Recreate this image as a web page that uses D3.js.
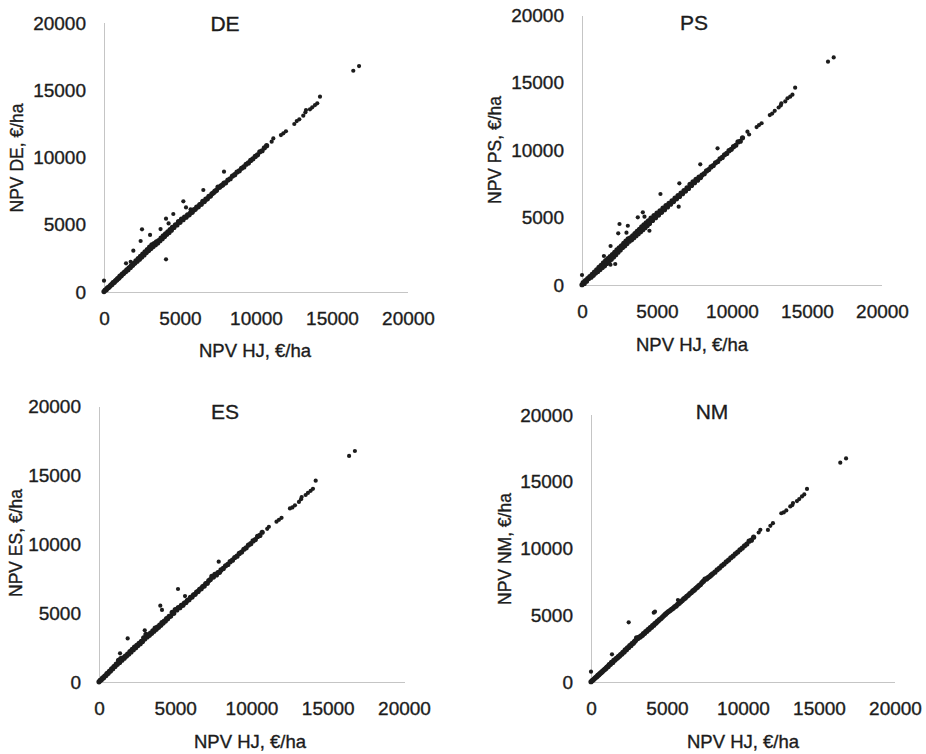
<!DOCTYPE html>
<html lang="en">
<head>
<meta charset="UTF-8">
<title>NPV comparison</title>
<script src="https://cdn.jsdelivr.net/npm/d3@7"></script>
<style>
  body { margin: 0; background: #fff; }
  svg { display: block; font-family: "Liberation Sans", Arial, sans-serif; }
</style>
</head>
<body>
<svg width="926" height="754"></svg>
<script>
// NPV HJ (x) for the dense band, shared by all panels
const hjBand = [0, 80, 150, 230, 300, 380, 450, 520, 600, 680, 750, 830, 900, 980, 1050, 1130, 1200, 1280, 1350, 1430,
  1500, 1580, 1650, 1730, 1800, 1880, 1950, 2030, 2100, 2180, 2250, 2330, 2400, 2480, 2550, 2630, 2700, 2780, 2850, 2930,
  3000, 3080, 3150, 3230, 3300, 3380, 3450, 3530, 3600, 3680, 3750, 3830, 3900, 3980, 4050, 4130, 4200, 4280, 4350, 4430,
  4500, 4600, 4700, 4800, 4900, 5000, 5100, 5200, 5300, 5400, 5500, 5600, 5700, 5800, 5900, 6000, 6100, 6200, 6300, 6400,
  6500, 6600, 6700, 6800, 6900, 7000, 7100, 7200, 7300, 7400, 7500, 7600, 7700, 7800, 7900, 8000, 8150, 8300, 8450, 8600,
  8750, 8900, 9050, 9200, 9350, 9500, 9650, 9800, 9950, 10100, 10250, 10400, 10550, 10700];

const deBand = [30, 140, 170, 300, 330, 420, 520, 560, 690, 720, 830, 900, 990, 1050, 1180, 1200, 1330, 1370, 1480, 1520,
  1640, 1660, 1800, 1830, 1960, 1990, 2120, 2150, 2310, 2290, 2480, 2440, 2650, 2600, 2820, 2760, 2990, 2930, 3150, 3080,
  3330, 3230, 3500, 3380, 3600, 3520, 3720, 3650, 3830, 3810, 4000, 3960, 4180, 4120, 4330, 4290, 4480, 4430, 4640, 4590,
  4800, 4800, 5000, 4990, 5230, 5180, 5420, 5380, 5560, 5560, 5730, 5740, 5900, 5930, 6100, 6150, 6320, 6330, 6500, 6530,
  6740, 6720, 6900, 6930, 7120, 7130, 7300, 7380, 7500, 7560, 7800, 7780, 7900, 7960, 8100, 8120, 8320, 8420, 8620, 8720,
  8920, 9010, 9200, 9300, 9500, 9600, 9780, 9900, 10080, 10200, 10420, 10500, 10720, 10880];

const psBand = [20, 170, 120, 330, 280, 470, 480, 620, 580, 780, 720, 950, 880, 1120, 1000, 1300, 1150, 1450, 1300, 1650,
  1420, 1800, 1600, 1950, 1750, 2100, 1900, 2260, 2080, 2420, 2250, 2600, 2430, 2760, 2600, 2900, 2780, 3080, 2900, 3250,
  3080, 3420, 3250, 3500, 3350, 3650, 3500, 3800, 3650, 3980, 3800, 4130, 3950, 4300, 4100, 4450, 4250, 4600, 4400, 4760,
  4560, 4950, 4780, 5150, 4980, 5330, 5180, 5500, 5380, 5700, 5580, 5880, 5780, 6050, 5980, 6230, 6180, 6430, 6380, 6620,
  6560, 6800, 6760, 7000, 6960, 7200, 7150, 7450, 7370, 7650, 7580, 7820, 7760, 8000, 7960, 8150, 8250, 8450, 8550, 8750,
  8850, 9050, 9150, 9350, 9450, 9650, 9750, 9950, 10050, 10250, 10350, 10600, 10650, 10900];

const esBand = [10, 120, 160, 280, 310, 430, 470, 600, 640, 780, 800, 950, 960, 1120, 1130, 1300, 1280, 1560, 1420, 1700,
  1580, 1750, 1720, 1880, 1880, 2030, 2020, 2200, 2180, 2370, 2340, 2520, 2490, 2660, 2640, 2800, 2780, 2950, 2930, 3200,
  3120, 3450, 3260, 3400, 3380, 3550, 3530, 3700, 3680, 3900, 3820, 3980, 3960, 4120, 4120, 4300, 4270, 4420, 4420, 4600,
  4580, 4750, 4780, 5050, 4980, 5250, 5220, 5400, 5380, 5550, 5570, 5720, 5760, 5920, 5960, 6130, 6160, 6320, 6360, 6520,
  6560, 6720, 6760, 6920, 6960, 7130, 7160, 7350, 7420, 7650, 7600, 7800, 7760, 7920, 7950, 8120, 8230, 8420, 8520, 8720,
  8830, 9020, 9120, 9320, 9420, 9620, 9720, 9920, 10020, 10220, 10320, 10550, 10620, 10850];

const nmBand = [20, 110, 170, 260, 330, 400, 490, 550, 640, 720, 790, 880, 940, 1020, 1120, 1170, 1300, 1330, 1480, 1470,
  1620, 1640, 1760, 1800, 1900, 1950, 2060, 2100, 2230, 2250, 2400, 2420, 2560, 2580, 2720, 2740, 2880, 2900, 3020, 3100,
  3300, 3250, 3350, 3380, 3460, 3500, 3620, 3650, 3780, 3800, 3930, 3950, 4080, 4100, 4230, 4260, 4380, 4420, 4530, 4580,
  4680, 4750, 4860, 4980, 5080, 5180, 5280, 5350, 5450, 5520, 5630, 5700, 5820, 5900, 6020, 6100, 6220, 6300, 6420, 6500,
  6620, 6700, 6820, 6900, 7020, 7100, 7220, 7300, 7450, 7550, 7700, 7720, 7820, 7900, 8000, 8100, 8230, 8400, 8530, 8700,
  8830, 9000, 9130, 9300, 9430, 9600, 9730, 9900, 10030, 10200, 10330, 10550, 10620, 10850];

// sparse high-value stands
const hjHigh = [11030, 11140, 11640, 11800, 11970, 12520, 12680, 12850, 13110, 13250, 13290, 13550, 13700, 13880, 14030, 14210, 16400, 16780];
const deHigh = [11180, 11420, 11670, 11800, 11950, 12490, 12710, 12840, 13110, 13360, 13530, 13580, 13730, 13900, 14030, 14520, 16450, 16800];
const psHigh = [11360, 11150, 11700, 11850, 11980, 12590, 12700, 12900, 13150, 13300, 13450, 13600, 13830, 13950, 14100, 14620, 16540, 16860];
const esHigh = [11100, 11250, 11620, 11750, 11900, 12580, 12650, 12800, 13050, 13250, 13400, 13550, 13700, 13850, 14000, 14590, 16380, 16740];
const nmHigh = [11200, 11400, 11390, 11700, 11900, 12640, 12700, 12850, 13150, 13250, 13400, 13550, 13700, 13900, 14050, 14460, 16430, 16750];

// scattered stands off the band, [NPV HJ, NPV method]
const deOut = [[7895, 8945], [6535, 7584], [5220, 6740], [5395, 6290], [5700, 6150], [4560, 5800], [4080, 5450], [4250, 5100],
  [3720, 4680], [2500, 4660], [3030, 4240], [2410, 3790], [1930, 3070], [4080, 2430], [1450, 2130], [1755, 2250], [0, 840]];
const psOut = [[9037, 10125], [7885, 8940], [6490, 7530], [5230, 6740], [6445, 5800], [4055, 5380], [3720, 5015], [4165, 5060],
  [4495, 4020], [2500, 4520], [3055, 4390], [2415, 3830], [2965, 3875], [1905, 2890], [1460, 2150], [2215, 1555], [1900, 1500], [0, 740]];
const esOut = [[7850, 8720], [5180, 6740], [5640, 6230], [4020, 5530], [4130, 5220], [1880, 3160], [1380, 2080], [3000, 3750]];
const nmOut = [[2480, 4470], [4130, 5190], [4210, 5270], [5720, 6140], [1380, 2070], [0, 770]];

const ticks = [0, 5000, 10000, 15000, 20000];
const xLabel = "NPV HJ, €/ha";

const panels = [
  {title: "DE", band: deBand, high: deHigh, out: deOut, left: 104, right: 408, top: 23, bottom: 292,
   titleX: 225, titleY: 31, yLabX: 23, yLabY: 158, xLabX: 255, xLabY: 357},
  {title: "PS", band: psBand, high: psHigh, out: psOut, left: 582, right: 882, top: 15, bottom: 285,
   titleX: 694, titleY: 30, yLabX: 501, yLabY: 150, xLabX: 692, xLabY: 351},
  {title: "ES", band: esBand, high: esHigh, out: esOut, left: 99, right: 404, top: 406, bottom: 682,
   titleX: 225, titleY: 419, yLabX: 22, yLabY: 543, xLabX: 250, xLabY: 748},
  {title: "NM", band: nmBand, high: nmHigh, out: nmOut, left: 591, right: 895, top: 415, bottom: 682,
   titleX: 712, titleY: 419, yLabX: 511, yLabY: 549, xLabX: 743, xLabY: 748}
];

const svg = d3.select("svg");
const ink = "#1c1c1c";

// scanned look: a hairline stroke makes the type a bit heavier
const heavy = sel => sel.attr("fill", ink).attr("stroke", ink).attr("stroke-width", 0.35);

panels.forEach(p => {
  const x = d3.scaleLinear().domain([0, 20000]).range([p.left, p.right]);
  const y = d3.scaleLinear().domain([0, 20000]).range([p.bottom, p.top]);
  const g = svg.append("g");

  const yAxis = g.append("g")
      .attr("transform", `translate(${p.left},0)`)
      .call(d3.axisLeft(y).tickValues(ticks).tickFormat(d3.format("d")).tickSize(0).tickPadding(18));
  const xAxis = g.append("g")
      .attr("transform", `translate(0,${p.bottom})`)
      .call(d3.axisBottom(x).tickValues(ticks).tickFormat(d3.format("d")).tickSize(0).tickPadding(20));

  [xAxis, yAxis].forEach(a => {
    a.select(".domain").attr("stroke", "#8a8a8a").attr("stroke-width", 1).attr("stroke-dasharray", "1,1");
    a.selectAll("text").call(heavy).style("font-size", "19px");
  });

  const pts = hjBand.map((v, i) => [v, p.band[i], 2.6])
    .concat(hjHigh.map((v, i) => [v, p.high[i], 2.1]))
    .concat(p.out.map(d => [d[0], d[1], 2.1]));

  g.append("g").selectAll("circle")
    .data(pts)
    .join("circle")
      .attr("cx", d => x(d[0]))
      .attr("cy", d => y(d[1]))
      .attr("r", d => d[2])
      .attr("fill", ink);

  g.append("text")
      .attr("x", p.titleX).attr("y", p.titleY)
      .attr("text-anchor", "middle")
      .call(heavy)
      .style("font-size", "21px")
      .text(p.title);

  g.append("text")
      .attr("transform", `translate(${p.yLabX},${p.yLabY}) rotate(-90)`)
      .attr("text-anchor", "middle")
      .call(heavy)
      .style("font-size", "17.5px")
      .text(`NPV ${p.title}, €/ha`);

  g.append("text")
      .attr("x", p.xLabX).attr("y", p.xLabY)
      .attr("text-anchor", "middle")
      .call(heavy)
      .style("font-size", "18.5px")
      .text(xLabel);
});
</script>
</body>
</html>
